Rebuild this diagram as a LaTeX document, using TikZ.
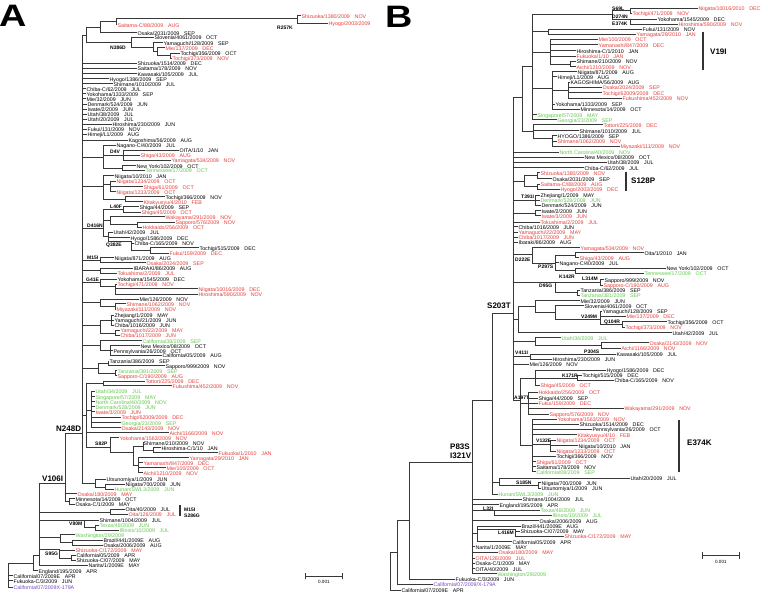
\documentclass[tikz,border=0pt]{standalone}
\usepackage{fontspec}
\setmainfont{Liberation Sans}
\newcounter{lfc}
\definecolor{cred}{RGB}{230,62,58}
\definecolor{cgrn}{RGB}{100,200,80}
\definecolor{cpur}{RGB}{120,70,200}
\tikzset{
  br/.style={draw=black!78, line width=0.6pt, line cap=rect},
  barline/.style={draw=black!80, line width=1.2pt},
  lb/.style={anchor=mid west, inner sep=0pt, xshift=0.4pt, font=\fontsize{5.3}{5.6}\selectfont},
  mlb/.style={anchor=mid west, inner sep=0pt, font=\fontsize{5}{5.5}\selectfont\bfseries},
  mlbL/.style={anchor=mid west, inner sep=0pt, font=\fontsize{8}{9}\selectfont\bfseries},
  rd/.style={text=cred}, gn/.style={text=cgrn}, pu/.style={text=cpur}
}
\newcommand\lf[6]{\draw[br] (#1,#3) -- (#2,#3);\stepcounter{lfc}\node[lb,#4] (l\arabic{lfc}) at (#2,#3) {#5\hspace{0.9em}#6};}
\newcommand\iv[5]{\draw[br] (#2,#3) -- (#2,#4);\draw[br] (#1,#5) -- (#2,#5);}
\newcommand\mt[3]{\stepcounter{lfc}\node[mlb] (m\arabic{lfc}) at (#1,#2) {#3};}
\newcommand\mtL[3]{\stepcounter{lfc}\node[mlbL] (m\arabic{lfc}) at (#1,#2) {#3};}
\begin{document}
\begin{tikzpicture}[x=1pt,y=-1pt]
\fill[white] (0,0) rectangle (768,602);
\useasboundingbox (0,0) rectangle (768,602);
% ================= PANEL A =================
\node[anchor=base west,inner sep=0pt,font=\fontsize{31}{31}\selectfont\bfseries] (pA) at (-1,27) {\scalebox{1.22}[1]{A}};
\begin{scope}
\clip (0,0) rectangle (369,602);
\iv{65}{82}{35}{483}{433}
\iv{82}{86}{27}{42.7}{35}
\iv{86}{100}{21.5}{32.7}{27}
\iv{100}{116}{18.3}{24.7}{21.5}
\iv{116}{297}{15.7}{23}{18.3}
\lf{297}{301}{15.7}{rd}{Shizuoka/1380/2009}{NOV}
\lf{297}{328}{23}{rd}{Hyogo/2003/2009}{DEC}
\mt{277}{27}{R257K}
\lf{116}{117}{24.7}{rd}{Saitama-C/88/2009}{AUG}
\lf{100}{137}{32.7}{}{Osaka/2031/2009}{SEP}
\iv{86}{131}{37}{47}{42.7}
\mt{110}{46.8}{N386D}
\lf{131}{154}{37}{}{Slovenia/4061/2009}{OCT}
\iv{131}{153}{42.7}{51.7}{47}
\lf{153}{163}{42.7}{}{Yamaguchi/128/2009}{SEP}
\iv{153}{157}{47.7}{55.8}{51.7}
\lf{157}{165}{47.7}{rd}{Mie/137/2009}{DEC}
\iv{157}{170}{53.3}{58.3}{55.8}
\lf{170}{180}{53.3}{}{Tochigi/356/2009}{OCT}
\lf{170}{172}{58.3}{rd}{Tochigi/373/2009}{NOV}
\lf{82}{137}{63.3}{}{Shizuoka/1514/2009}{DEC}
\lf{82}{137}{68.3}{}{Saitama/178/2009}{NOV}
\lf{82}{137}{73.7}{}{Kawasaki/105/2009}{JUL}
\lf{82}{109}{78.7}{}{Hyogo/1386/2009}{SEP}
\lf{82}{113}{83.7}{}{Shimane/1010/2009}{JUL}
\lf{82}{86}{88.7}{}{Chiba-C/62/2009}{JUL}
\lf{82}{86}{93.7}{}{Yokohama/1333/2009}{SEP}
\lf{82}{86}{98.7}{}{Mie/32/2009}{JUN}
\lf{82}{87}{104.3}{}{Denmark/524/2009}{JUN}
\lf{82}{87}{109.3}{}{Iwate/2/2009}{JUN}
\lf{82}{87}{114.3}{}{Utah/38/2009}{JUL}
\lf{82}{87}{119.3}{}{Utah/20/2009}{JUL}
\lf{82}{112}{124.3}{}{Hiroshima/230/2009}{JUN}
\lf{82}{87}{129.3}{}{Fukui/131/2009}{NOV}
\lf{82}{87}{134.3}{}{Himeji/L1/2009}{AUG}
\lf{82}{128}{140}{}{Kagoshima/56/2009}{AUG}
% Nagano clade
\iv{82}{103}{145}{168}{157}
\lf{103}{116}{145}{}{Nagano-C/40/2009}{JUL}
\iv{103}{123}{150.3}{160.3}{155}
\mt{110}{151.3}{D4V}
\lf{123}{179}{150.3}{}{OITA/1/10}{JAN}
\lf{123}{140}{155.3}{rd}{Shiga/43/2009}{AUG}
\lf{123}{171}{160.3}{rd}{Yamagata/534/2009}{NOV}
\iv{103}{122}{165.7}{170.3}{168}
\lf{122}{136}{165.7}{}{New York/102/2009}{OCT}
\lf{122}{145}{170.3}{gn}{Tennessee/17/2009}{OCT}
% Niigata clade
\iv{82}{103}{175.7}{199}{186}
\lf{103}{114}{175.7}{}{Niigata/10/2010}{JAN}
\iv{103}{110}{181}{191.7}{184}
\lf{110}{116}{181}{rd}{Niigata/1234/2009}{OCT}
\lf{110}{143}{186.7}{rd}{Shiga/61/2009}{OCT}
\lf{110}{116}{191.7}{rd}{Niigata/1233/2009}{OCT}
\iv{103}{125}{196.7}{201.7}{199}
\lf{125}{165}{196.7}{}{Tochigi/366/2009}{NOV}
\lf{125}{143}{201.7}{rd}{Kitakyusyu/4/2010}{FEB}
% D416N
\iv{82}{103}{209}{236}{228}
\mt{87}{225}{D416N}
\iv{103}{123}{206.7}{212}{209}
\mt{110}{206.3}{L40F}
\lf{123}{139}{206.7}{}{Shiga/44/2009}{SEP}
\lf{123}{141}{212}{rd}{Shiga/45/2009}{OCT}
\iv{103}{110}{216.7}{224.5}{220}
\lf{110}{165}{216.7}{rd}{Wakayama/291/2009}{NOV}
\iv{110}{137}{222}{227}{224.5}
\lf{137}{175}{222}{rd}{Sapporo/576/2009}{NOV}
\lf{137}{142}{227}{rd}{Hokkaido/256/2009}{OCT}
\iv{103}{108}{232.3}{241}{236}
\lf{108}{113}{232.3}{}{Utah/42/2009}{JUL}
\lf{108}{130}{237.7}{}{Hyogo/1586/2009}{DEC}
\iv{108}{131}{241}{250.3}{241}
\mt{106}{244}{Q382E}
\lf{131}{134}{243}{}{Chiba-C/165/2009}{NOV}
\iv{131}{150}{247.7}{253}{250.3}
\lf{150}{199}{247.7}{}{Tochigi/515/2009}{DEC}
\lf{150}{169}{253}{rd}{Fukui/159/2009}{DEC}
% M15I
\iv{82}{100}{257.7}{262.7}{260}
\mt{87}{256.8}{M15I}
\lf{100}{114}{257.7}{}{Niigata/871/2009}{AUG}
\lf{100}{146}{262.7}{rd}{Osaka/2024/2009}{SEP}
\iv{82}{100}{268}{273}{270.5}
\lf{100}{133}{268}{}{IBARAKI/86/2009}{AUG}
\lf{100}{117}{273}{rd}{Tokushima/2/2009}{JUL}
% G41E
\iv{82}{100}{279}{286}{282.5}
\mt{86}{279.3}{G41E}
\lf{100}{117}{279}{}{Yokohama/1545/2009}{DEC}
\iv{100}{115}{284}{294}{286}
\lf{115}{117}{284}{rd}{Tochigi/471/2009}{NOV}
\lf{115}{198}{288.7}{rd}{Niigata/10016/2009}{DEC}
\lf{115}{198}{294}{rd}{Hiroshima/590/2009}{NOV}
\iv{82}{100}{299}{306.3}{302.5}
\lf{100}{139}{299}{}{Mie/126/2009}{NOV}
\iv{100}{115}{303.7}{309}{306.3}
\lf{115}{126}{303.7}{rd}{Shimane/1062/2009}{NOV}
\lf{115}{116}{309}{rd}{Miyazaki/111/2009}{NOV}
% Zhejiang
\iv{82}{100}{320.3}{332.8}{325}
\iv{100}{111}{315.3}{325.3}{320.3}
\lf{111}{114}{315.3}{}{Zhejiang/1/2009}{MAY}
\lf{111}{114}{320.3}{}{Yamaguchi/21/2009}{JUN}
\lf{111}{114}{325.3}{}{Chiba/1016/2009}{JUN}
\iv{100}{115}{330.3}{335.3}{332.8}
\lf{115}{120}{330.3}{rd}{Yamaguchi/22/2009}{MAY}
\lf{115}{120}{335.3}{rd}{Chiba/1017/2009}{JUN}
% California/38
\iv{82}{100}{340.7}{350}{345}
\lf{100}{142}{340.7}{gn}{California/38/2009}{SEP}
\iv{100}{110}{345.7}{355}{350}
\lf{110}{140}{345.7}{}{New Mexico/08/2009}{OCT}
\lf{110}{113}{350.7}{}{Pennsylvania/26/2009}{OCT}
\lf{110}{162}{355}{}{California/05/2009}{AUG}
% Tanzania
\iv{82}{98}{363.3}{373.2}{368}
\iv{98}{108}{361}{365.7}{363.3}
\lf{108}{109}{361}{}{Tanzania/386/2009}{SEP}
\lf{108}{165}{365.7}{}{Sapporo/999/2009}{NOV}
\iv{98}{115}{370.7}{375.7}{373.2}
\lf{115}{117}{370.7}{gn}{Tanzania/381/2009}{SEP}
\lf{115}{117}{375.7}{rd}{Sapporo-C/190/2009}{AUG}
% big clade
\iv{82}{86}{383.3}{447}{415}
\iv{86}{103}{381}{385.7}{383.3}
\lf{103}{145}{381}{rd}{Tottori/225/2009}{DEC}
\lf{103}{172}{385.7}{rd}{Fukushima/452/2009}{NOV}
\iv{86}{91}{391}{427.7}{410}
\lf{91}{95}{391}{gn}{Utah/34/2009}{JUL}
\lf{91}{95}{396.7}{gn}{Singapore/57/2009}{MAY}
\lf{91}{95}{401.7}{gn}{North Carolina/40/2009}{NOV}
\lf{91}{95}{406.7}{gn}{Denmark/528/2009}{JUN}
\lf{91}{95}{411.7}{rd}{Iwate/3/2009}{JUN}
\lf{91}{121}{417.3}{rd}{Tochigi/62009/2009}{DEC}
\lf{91}{121}{422.7}{gn}{Georgia/23/2009}{SEP}
\lf{91}{121}{427.7}{rd}{Osaka/2143/2009}{NOV}
\lf{86}{169}{432.7}{rd}{Aichi/1166/2009}{NOV}
\iv{86}{110}{437.7}{452}{447}
\mt{95}{443}{S82P}
\lf{110}{119}{437.7}{rd}{Yokohama/1563/2009}{NOV}
\iv{110}{133}{446}{465}{452}
\iv{133}{143}{442.7}{450}{446}
\lf{143}{143}{442.7}{}{Shimane/210/2009}{NOV}
\iv{143}{153}{447.7}{452.7}{450}
\lf{153}{161}{447.7}{}{Hiroshima-C/1/10}{JAN}
\lf{153}{218}{452.7}{rd}{Fukuoka/1/2010}{JAN}
\iv{133}{138}{457.7}{472.7}{465}
\lf{138}{189}{457.7}{rd}{Yamagata/29/2010}{JAN}
\lf{138}{143}{462.7}{rd}{Yamanashi/847/2009}{DEC}
\lf{138}{166}{467.7}{rd}{Mie/100/2009}{OCT}
\lf{138}{143}{472.7}{rd}{Aichi/1210/2009}{NOV}
% Utsunomiya
\iv{82}{95}{479.3}{486.8}{483}
\lf{95}{106}{479.3}{}{Utsunomiya/1/2009}{JUN}
\iv{95}{105}{484.3}{489.3}{486.8}
\lf{105}{125}{484.3}{}{Niigata/700/2009}{JUN}
\lf{105}{114}{489.3}{gn}{Hunan/SWL3/2009}{JUN}
\mtL{56}{429.3}{N248D}
% V106I
\iv{39}{65}{433}{501.3}{483}
\mtL{42}{479.3}{V106I}
\lf{65}{77}{493.7}{rd}{Osaka/180/2009}{MAY}
\iv{65}{69}{498.7}{504}{501.3}
\lf{69}{75}{498.7}{}{Minnesota/14/2009}{OCT}
\lf{69}{75}{504}{}{Osaka-C/1/2009}{MAY}
% lower backbone
\iv{8}{33}{555}{570.7}{563}
\iv{33}{39}{483}{565.3}{555}
\lf{33}{38}{570.7}{}{England/195/2009}{APR}
\draw[br] (8,563) -- (8,587.3);
\lf{8}{13}{575.7}{}{California/07/2009E}{APR}
\lf{8}{13}{580.7}{}{Fukuoka-C/3/2009}{JUN}
\lf{8}{13}{587.3}{pu}{California/07/2009X-179A}{}
\iv{39}{110}{509.3}{514.3}{511.8}
\lf{110}{125}{509.3}{}{Oita/40/2009}{JUL}
\lf{110}{128}{514.3}{rd}{Oita/126/2009}{JUL}
\iv{39}{84}{520}{527.5}{520}
\mt{69}{523}{V80M}
\lf{84}{99}{520}{}{Shimane/1004/2009}{JUL}
\iv{84}{95}{525}{530}{527.5}
\lf{95}{99}{525}{gn}{Texas/48/2009}{JUN}
\lf{95}{119}{530}{gn}{Illinois/10/2009}{JUL}
\iv{39}{60}{534.7}{542.5}{537}
\lf{60}{75}{534.7}{gn}{Washington/29/2009}{}
\iv{60}{72}{540}{545}{542.5}
\lf{72}{103}{540}{}{Brazil/441/2009E}{AUG}
\lf{72}{103}{545}{}{Osaka/2006/2009}{AUG}
\iv{39}{59}{549.5}{557.8}{549.5}
\mt{45}{552.5}{S95G}
\lf{59}{75}{550.3}{rd}{Shizuoka-C/172/2009}{MAY}
\iv{59}{71}{555.3}{560.3}{557.8}
\lf{71}{76}{555.3}{}{California/05/2009}{APR}
\lf{71}{76}{560.3}{}{Shizuoka-C/07/2009}{MAY}
\lf{39}{88}{565.3}{}{Narita/1/2009E}{MAY}
% bar
\draw[barline] (180,505) -- (180,516);
\mt{184}{509.3}{M15I}
\mt{184}{515}{S286G}
% scale
\draw[br] (305,576) -- (342,576);
\draw[br] (305,573) -- (305,579);
\draw[br] (342,573) -- (342,579);
\node[lb,anchor=center,xshift=0pt,font=\fontsize{4.6}{5}\selectfont] (sA) at (323.5,581.5) {0.001};
\end{scope}
% ================= PANEL B =================
\node[anchor=base west,inner sep=0pt,font=\fontsize{31}{31}\selectfont\bfseries] (pB) at (385,28) {\scalebox{1.22}[1]{B}};
\draw[br] (390,552) -- (390,590);
\lf{390}{401}{590}{}{California/07/2009E}{APR}
\iv{390}{397}{520}{584.3}{552}
\lf{397}{433}{584.3}{pu}{California/07/2009/X-179A}{}
\iv{397}{409}{462}{579}{520}
\lf{409}{455}{579}{}{Fukuoka-C/3/2009}{JUN}
\iv{409}{472}{400}{573.7}{462}
\mtL{450}{446.7}{P83S}
\mtL{450}{456.3}{I321V}
\iv{472}{492}{313}{494.3}{400}
\mtL{487}{305.7}{S203T}
\iv{492}{513}{97}{400}{313}
\iv{492}{499}{478.3}{485.5}{482}
\lf{499}{630}{478.3}{}{Utah/20/2009}{JUL}
\iv{499}{538}{482.7}{488.3}{485.5}
\mt{516}{482.3}{S185N}
\lf{538}{541}{482.7}{}{Niigata/700/2009}{JUN}
\lf{538}{541}{488.3}{}{Utsunomiya/1/2009}{JUN}
\lf{492}{498}{494.3}{gn}{Hunan/SWL3/2009}{JUN}
\lf{472}{522}{499}{}{Shimane/1004/2009}{JUL}
\lf{472}{499}{504.7}{}{England/195/2009}{APR}
\iv{472}{494}{510}{515.3}{510}
\mt{483}{507.5}{L32I}
\lf{494}{540}{510}{gn}{Texas/48/2009}{JUN}
\lf{494}{552}{515.3}{gn}{Illinois/10/2009}{JUL}
\lf{472}{539}{520.7}{}{Osaka/2006/2009}{AUG}
\iv{472}{477}{526}{541.7}{533.5}
\lf{477}{521}{526}{}{Brazil/441/2009E}{AUG}
\iv{477}{515}{529}{536}{529}
\mt{498}{531.8}{L416M}
\lf{515}{520}{531}{}{Shizuoka-C/07/2009}{MAY}
\lf{515}{564}{536}{rd}{Shizuoka-C/172/2009}{MAY}
\lf{477}{512}{541.7}{}{California/05/2009}{APR}
\lf{472}{475}{546.7}{}{Narita/1/2009E}{MAY}
\lf{472}{498}{552}{rd}{Osaka/180/2009}{MAY}
\lf{472}{475}{558.3}{rd}{OITA/126/2009}{JUL}
\lf{472}{475}{563.3}{}{Osaka-C/1/2009}{MAY}
\lf{472}{475}{568.7}{}{OITA/40/2009}{JUL}
\lf{472}{497}{573.7}{gn}{Washington/29/2009}{}
% upper B
\iv{513}{522}{66}{131}{97}
\iv{522}{532}{14}{119.7}{66}
\iv{532}{612}{10.5}{19.5}{14}
\iv{612}{630}{8}{13}{10.5}
\lf{630}{698}{8}{rd}{Niigata/10016/2010}{DEC}
\lf{630}{632}{13}{rd}{Tochigi/471/2009}{NOV}
\iv{612}{630}{19}{24}{19.5}
\lf{630}{657}{19}{}{Yokohama/1545/2009}{DEC}
\lf{630}{678}{24}{rd}{Hiroshima/590/2009}{NOV}
\mt{612}{8}{S69L}
\mt{612}{16}{D274N}
\mt{612}{22.6}{E374K}
\iv{532}{548}{29.3}{34}{31.5}
\lf{548}{642}{29.3}{}{Fukui/131/2009}{NOV}
\lf{548}{636}{34}{rd}{Yamagata/29/2010}{JAN}
\iv{532}{550}{39.3}{64}{52}
\lf{550}{598}{39.3}{rd}{Mie/100/2009}{OCT}
\lf{550}{598}{44.7}{rd}{Yamanashi/847/2009}{DEC}
\lf{550}{576}{50.7}{}{Hiroshima-C/1/2010}{JAN}
\lf{550}{576}{56}{rd}{Fukuoka/1/10}{JAN}
\iv{550}{570}{61.3}{66.7}{64}
\lf{570}{576}{61.3}{}{Shimane/210/2009}{NOV}
\lf{570}{576}{66.7}{rd}{Aichi/1210/2009}{NOV}
\iv{532}{552}{71.7}{109.3}{88}
\lf{552}{577}{71.7}{}{Niigata/871/2009}{AUG}
\lf{552}{557}{76.7}{}{Himeji/L1/2009}{AUG}
\iv{552}{568}{82}{98}{90}
\lf{568}{570}{82}{}{KAGOSHIMA/56/2009}{AUG}
\lf{568}{602}{87.3}{rd}{Osaka/2024/2009}{SEP}
\lf{568}{602}{92.7}{rd}{Tochigi/62009/2009}{DEC}
\lf{568}{622}{98}{rd}{Fukushima/452/2009}{NOV}
\lf{552}{555}{104}{}{Yokohama/1333/2009}{SEP}
\lf{552}{580}{109.3}{}{Minnesota/14/2009}{OCT}
\lf{532}{537}{114.7}{gn}{Singapore/57/2009}{MAY}
\lf{532}{557}{119.7}{gn}{Georgia/23/2009}{SEP}
\iv{522}{533}{124.7}{138}{131}
\lf{533}{603}{124.7}{rd}{Tottori/225/2009}{DEC}
\lf{533}{579}{130.7}{}{Shimane/1010/2009}{JUL}
\iv{533}{552}{135.7}{146}{138}
\lf{552}{557}{135.7}{}{HYOGO/1386/2009}{SEP}
\lf{552}{557}{141.3}{rd}{Shimane/1062/2009}{NOV}
\lf{552}{620}{146}{rd}{Miyazaki/111/2009}{NOV}
\lf{513}{559}{152}{gn}{North Carolina/40/2009}{NOV}
\lf{513}{584}{157.3}{}{New Mexico/08/2009}{OCT}
\lf{513}{607}{162.3}{}{Utah/38/2009}{JUL}
\lf{513}{584}{167.7}{}{Chiba-C/62/2009}{JUL}
% S128P
\iv{513}{524}{175.7}{186.7}{181}
\iv{524}{537}{172.7}{178.7}{175.7}
\lf{537}{540}{172.7}{rd}{Shizuoka/1380/2009}{NOV}
\lf{537}{552}{178.7}{}{Osaka/2031/2009}{SEP}
\iv{524}{537}{184}{189.3}{186.7}
\lf{537}{540}{184}{rd}{Saitama-C/88/2009}{AUG}
\lf{537}{560}{189.3}{rd}{Hyogo/2003/2009}{DEC}
\iv{513}{535}{195}{205.3}{200}
\mt{521}{196}{T391I}
\lf{535}{540}{195}{}{Zhejiang/1/2009}{MAY}
\lf{535}{540}{200}{gn}{Denmark/528/2009}{JUN}
\lf{535}{541}{205.3}{}{Denmark/524/2009}{JUN}
\iv{513}{535}{210.7}{215.7}{213}
\lf{535}{541}{210.7}{}{Iwate/2/2009}{JUN}
\lf{535}{541}{215.7}{rd}{Iwate/3/2009}{JUN}
\lf{513}{540}{222}{rd}{Tokushima/2/2009}{JUL}
\lf{513}{518}{226.7}{}{Chiba/1016/2009}{JUN}
\lf{513}{518}{232.3}{rd}{Yamaguchi/22/2009}{MAY}
\lf{513}{518}{237.3}{rd}{Chiba/1017/2009}{JUN}
\lf{513}{518}{242.3}{}{Ibaraki/86/2009}{AUG}
% D222E
\iv{513}{532}{247.7}{263}{254}
\mt{515}{258.5}{D222E}
\lf{532}{580}{247.7}{rd}{Yamagata/534/2009}{NOV}
\iv{532}{555}{255.2}{270.7}{263}
\mt{538}{265.8}{P297S}
\iv{555}{575}{252.7}{257.7}{255.2}
\lf{575}{644}{252.7}{}{Oita/1/2010}{JAN}
\lf{575}{579}{257.7}{rd}{Shiga/43/2009}{AUG}
\lf{555}{559}{262.7}{}{Nagano-C/40/2009}{JUL}
\iv{555}{575}{268}{273.3}{270.7}
\mt{559}{275.5}{K142R}
\lf{575}{666}{268}{}{New York/102/2009}{OCT}
\lf{575}{644}{273.3}{gn}{Tennessee/17/2009}{OCT}
% D95G
\iv{513}{555}{282}{292.7}{282}
\mt{539}{285.2}{D95G}
\iv{555}{600}{279.7}{285.3}{282}
\mt{582}{278.3}{L314M}
\lf{600}{604}{279.7}{}{Sapporo/999/2009}{NOV}
\lf{600}{603}{285.3}{rd}{Sapporo-C/190/2009}{AUG}
\iv{555}{577}{290}{295.3}{292.7}
\lf{577}{580}{290}{}{Tanzania/386/2009}{SEP}
\lf{577}{580}{295.3}{gn}{Tanzania/381/2009}{SEP}
% Slovenia clade
\iv{513}{518}{306}{332.7}{319}
\iv{518}{535}{300.5}{312}{306}
\lf{535}{580}{300.5}{}{Mie/32/2009}{JUN}
\iv{535}{555}{305.7}{319.5}{312}
\lf{555}{584}{305.7}{}{Slovenia/4061/2009}{OCT}
\iv{555}{600}{311}{324.5}{319.5}
\mt{581}{316}{V249M}
\lf{600}{602}{311}{}{Yamaguchi/128/2009}{SEP}
\lf{600}{626}{316.3}{rd}{Mie/137/2009}{DEC}
\iv{600}{622}{321.7}{327.3}{324.5}
\mt{604}{321.3}{Q104R}
\lf{622}{667}{321.7}{}{Tochigi/356/2009}{OCT}
\lf{622}{625}{327.3}{rd}{Tochigi/373/2009}{NOV}
\lf{518}{672}{332.7}{}{Utah/42/2009}{JUL}
\iv{513}{535}{337.7}{345.3}{341}
\lf{535}{561}{337.7}{gn}{Utah/34/2009}{JUL}
\iv{535}{601}{342.7}{348}{345.3}
\mt{584}{350.5}{P304S}
\lf{601}{649}{342.7}{rd}{Osaka/2143/2009}{NOV}
\lf{601}{621}{348}{rd}{Aichi/1166/2009}{NOV}
\iv{513}{530}{354}{359.3}{356.5}
\mt{515}{352.3}{V411I}
\lf{530}{616}{354}{}{Kawasaki/105/2009}{JUL}
\lf{530}{552}{359.3}{}{Hiroshima/230/2009}{JUN}
\lf{513}{529}{364.3}{}{Mie/126/2009}{NOV}
% A197T
\iv{513}{520}{378}{445}{400}
\mt{514}{397}{A197T}
\iv{520}{535}{370.3}{385.3}{378}
\lf{535}{606}{370.3}{}{Hyogo/1586/2009}{DEC}
\iv{535}{577}{375.3}{380.3}{377.8}
\mt{562}{375}{K171R}
\lf{577}{582}{375.3}{}{Tochigi/515/2009}{DEC}
\lf{577}{614}{380.3}{}{Chiba-C/165/2009}{NOV}
\lf{535}{540}{385.3}{rd}{Shiga/45/2009}{OCT}
\iv{520}{528}{392.3}{414}{403}
\lf{528}{538}{392.3}{rd}{Hokkaido/256/2009}{OCT}
\lf{528}{538}{398}{}{Shiga/44/2009}{SEP}
\lf{528}{538}{403.3}{rd}{Fukui/159/2009}{DEC}
\lf{528}{624}{408.3}{rd}{Wakayama/291/2009}{NOV}
\lf{528}{549}{414}{rd}{Sapporo/576/2009}{NOV}
\iv{520}{532}{419}{471.7}{445}
\lf{532}{557}{419}{rd}{Yokohama/1563/2009}{NOV}
\lf{532}{579}{424}{}{Shizuoka/1514/2009}{DEC}
\lf{532}{592}{429.3}{}{Pennsylvania/26/2009}{OCT}
\lf{532}{577}{434.7}{rd}{Kitakyusyu/4/10}{FEB}
\iv{532}{550}{440}{451}{444}
\mt{536}{440.3}{V132E}
\lf{550}{556}{440}{rd}{Niigata/1234/2009}{OCT}
\lf{550}{578}{445.7}{}{Niigata/10/2010}{JAN}
\lf{550}{556}{451}{rd}{Niigata/1233/2009}{OCT}
\lf{532}{556}{456.3}{}{Tochigi/366/2009}{NOV}
\lf{532}{536}{461.7}{rd}{Shiga/61/2009}{OCT}
\lf{532}{536}{466.7}{}{Saitama/178/2009}{NOV}
\lf{532}{536}{471.7}{gn}{California/08/2009}{SEP}
% bars B
\draw[barline] (703,32) -- (703,70);
\mtL{710}{51.7}{V19I}
\draw[barline] (626,172) -- (626,190.7);
\mtL{631}{180.7}{S128P}
\draw[barline] (679,420) -- (679,472);
\mtL{687}{442.7}{E374K}
% scale B
\draw[br] (702,555.7) -- (739,555.7);
\draw[br] (702,552.7) -- (702,558.7);
\draw[br] (739,552.7) -- (739,558.7);
\node[lb,anchor=center,xshift=0pt,font=\fontsize{4.6}{5}\selectfont] (sB) at (720.5,561.5) {0.001};
\end{tikzpicture}
\end{document}
